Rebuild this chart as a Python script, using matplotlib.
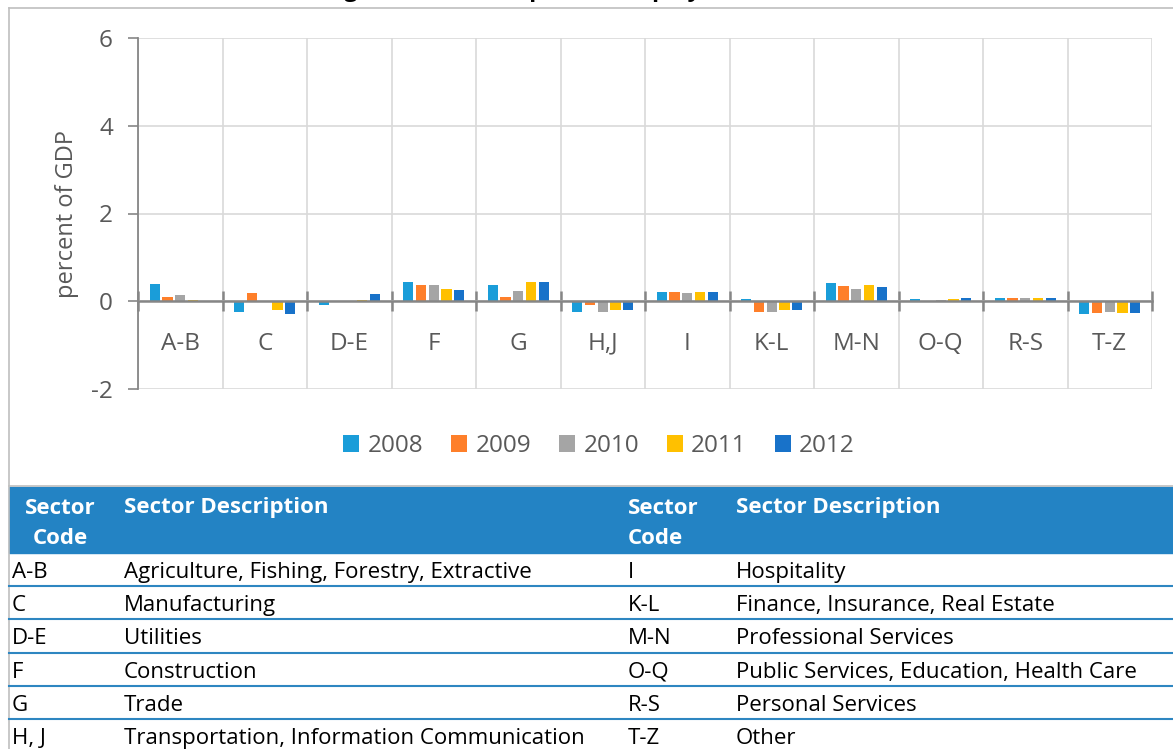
import numpy as np
import matplotlib.pyplot as plt
from matplotlib.patches import Rectangle
from matplotlib.lines import Line2D

# Data (percent of GDP)
sectors = ['A-B', 'C', 'D-E', 'F', 'G', 'H,J', 'I', 'K-L', 'M-N', 'O-Q', 'R-S', 'T-Z']
years = ['2008', '2009', '2010', '2011', '2012']
v2008 = [0.40, -0.24, -0.08, 0.43, 0.37, -0.24, 0.22, 0.05, 0.41, 0.06, 0.07, -0.28]
v2009 = [0.10, 0.19, 0.00, 0.37, 0.09, -0.08, 0.21, -0.24, 0.34, 0.00, 0.07, -0.26]
v2010 = [0.14, -0.01, 0.01, 0.37, 0.24, -0.24, 0.18, -0.24, 0.27, 0.02, 0.08, -0.24]
v2011 = [0.02, -0.20, 0.03, 0.28, 0.43, -0.20, 0.20, -0.20, 0.38, 0.05, 0.08, -0.26]
v2012 = [0.00, -0.28, 0.16, 0.25, 0.44, -0.20, 0.20, -0.20, 0.33, 0.08, 0.08, -0.26]
colors = ['#1A9DD9', '#FE7F2A', '#A5A5A5', '#FFC000', '#1872C9']

title = 'Figure 4: Noncompliance Gap by Sector, 2008'
ylabel = 'percent of GDP'

# sector table: left half and right half
codes_left = ['A-B', 'C', 'D-E', 'F', 'G', 'H, J']
desc_left = ['Agriculture, Fishing, Forestry, Extractive', 'Manufacturing', 'Utilities',
             'Construction', 'Trade', 'Transportation, Information Communication']
codes_right = ['I', 'K-L', 'M-N', 'O-Q', 'R-S', 'T-Z']
desc_right = ['Hospitality', 'Finance, Insurance, Real Estate', 'Professional Services',
              'Public Services, Education, Health Care', 'Personal Services', 'Other']

plt.rcParams['font.family'] = ['Open Sans', 'DejaVu Sans']
plt.rcParams['axes.unicode_minus'] = False

W, H = 1173, 749
fig = plt.figure(figsize=(W / 100, H / 100), dpi=100)


def fx(x):
    return x / W


def fy(y):
    return 1 - y / H


# chart frame
fig.add_artist(Line2D([fx(9), fx(9)], [fy(8), 0], color='#BFBFBF', lw=1.2))
fig.add_artist(Line2D([fx(9), 1], [fy(8), fy(8)], color='#BFBFBF', lw=1.2))
fig.add_artist(Line2D([fx(9), 1], [fy(486), fy(486)], color='#BFBFBF', lw=1.2))

# title, mostly cut off at the top edge
fig.text(0.5, fy(-4), title, ha='center', va='baseline', fontsize=17,
         fontweight='bold', color='#000000')

ax = fig.add_axes((fx(138), fy(389), fx(1152) - fx(138), fy(38) - fy(389)))
x = np.arange(len(sectors))
series = [v2008, v2009, v2010, v2011, v2012]
step = 0.151
bw = 0.122
for i, (vals, c, yr) in enumerate(zip(series, colors, years)):
    ax.bar(x + (i - 2) * step, vals, width=bw, color=c, label=yr, zorder=3)

ax.set_xlim(-0.5, len(sectors) - 0.5)
ax.set_ylim(-2, 6)
ax.set_yticks([-2, 0, 2, 4, 6])
ax.set_xticks(x)
ax.set_xticklabels(sectors)
ax.set_xticks(np.arange(-0.5, len(sectors)), minor=True)

for s in ['top', 'right']:
    ax.spines[s].set_visible(False)
ax.spines['left'].set_color('#868686')
ax.spines['left'].set_linewidth(1.3)
ax.spines['bottom'].set_position(('data', 0))
ax.spines['bottom'].set_color('#868686')
ax.spines['bottom'].set_linewidth(1.8)
ax.spines['bottom'].set_zorder(4)

ax.grid(axis='y', color='#D9D9D9', lw=1.2, zorder=0)
ax.grid(axis='x', which='minor', color='#D9D9D9', lw=1.2, zorder=0)
ax.tick_params(axis='y', direction='out', length=7, color='#868686', width=1.2,
               labelsize=17.5, labelcolor='#595959', pad=11)
ax.tick_params(axis='x', which='major', length=0, labelsize=17.5, labelcolor='#595959', pad=22)
ax.tick_params(axis='x', which='minor', direction='inout', length=14, color='#868686', width=1.8)
ax.set_ylabel(ylabel, fontsize=17, color='#595959', labelpad=9)

ax.legend(loc='center', bbox_to_anchor=(fx(599), fy(446)), bbox_transform=fig.transFigure,
          ncol=5, frameon=False, fontsize=17.5, handlelength=0.65, handleheight=0.65,
          handletextpad=0.35, columnspacing=1.15, labelcolor='#595959')

# table header
fig.add_artist(Rectangle((fx(9), fy(553)), 1 - fx(9), fy(487) - fy(553), color='#2383C4',
                         transform=fig.transFigure, zorder=1))
hdr = dict(fontsize=16, fontweight='bold', color='white', va='center')
fig.text(fx(60), fy(508), 'Sector', ha='center', **hdr)
fig.text(fx(60), fy(539), 'Code', ha='center', **hdr)
fig.text(fx(124), fy(508), 'Sector Description', ha='left', **hdr)
fig.text(fx(628), fy(508), 'Sector', ha='left', **hdr)
fig.text(fx(628), fy(539), 'Code', ha='left', **hdr)
fig.text(fx(736), fy(508), 'Sector Description', ha='left', **hdr)

row_h = 33.2
row_top = 553
cell = dict(fontsize=16, color='#000000', va='center')
for r in range(len(codes_left)):
    yc = row_top + row_h * (r + 0.5) + 3
    fig.text(fx(12), fy(yc), codes_left[r], ha='left', **cell)
    fig.text(fx(124), fy(yc), desc_left[r], ha='left', **cell)
    fig.text(fx(628), fy(yc), codes_right[r], ha='left', **cell)
    fig.text(fx(736), fy(yc), desc_right[r], ha='left', **cell)
    yl = row_top + row_h * (r + 1)
    fig.add_artist(Line2D([fx(9), 1], [fy(yl), fy(yl)], color='#2E86C1', lw=1.5))

fig.savefig('out.png', dpi=100)
